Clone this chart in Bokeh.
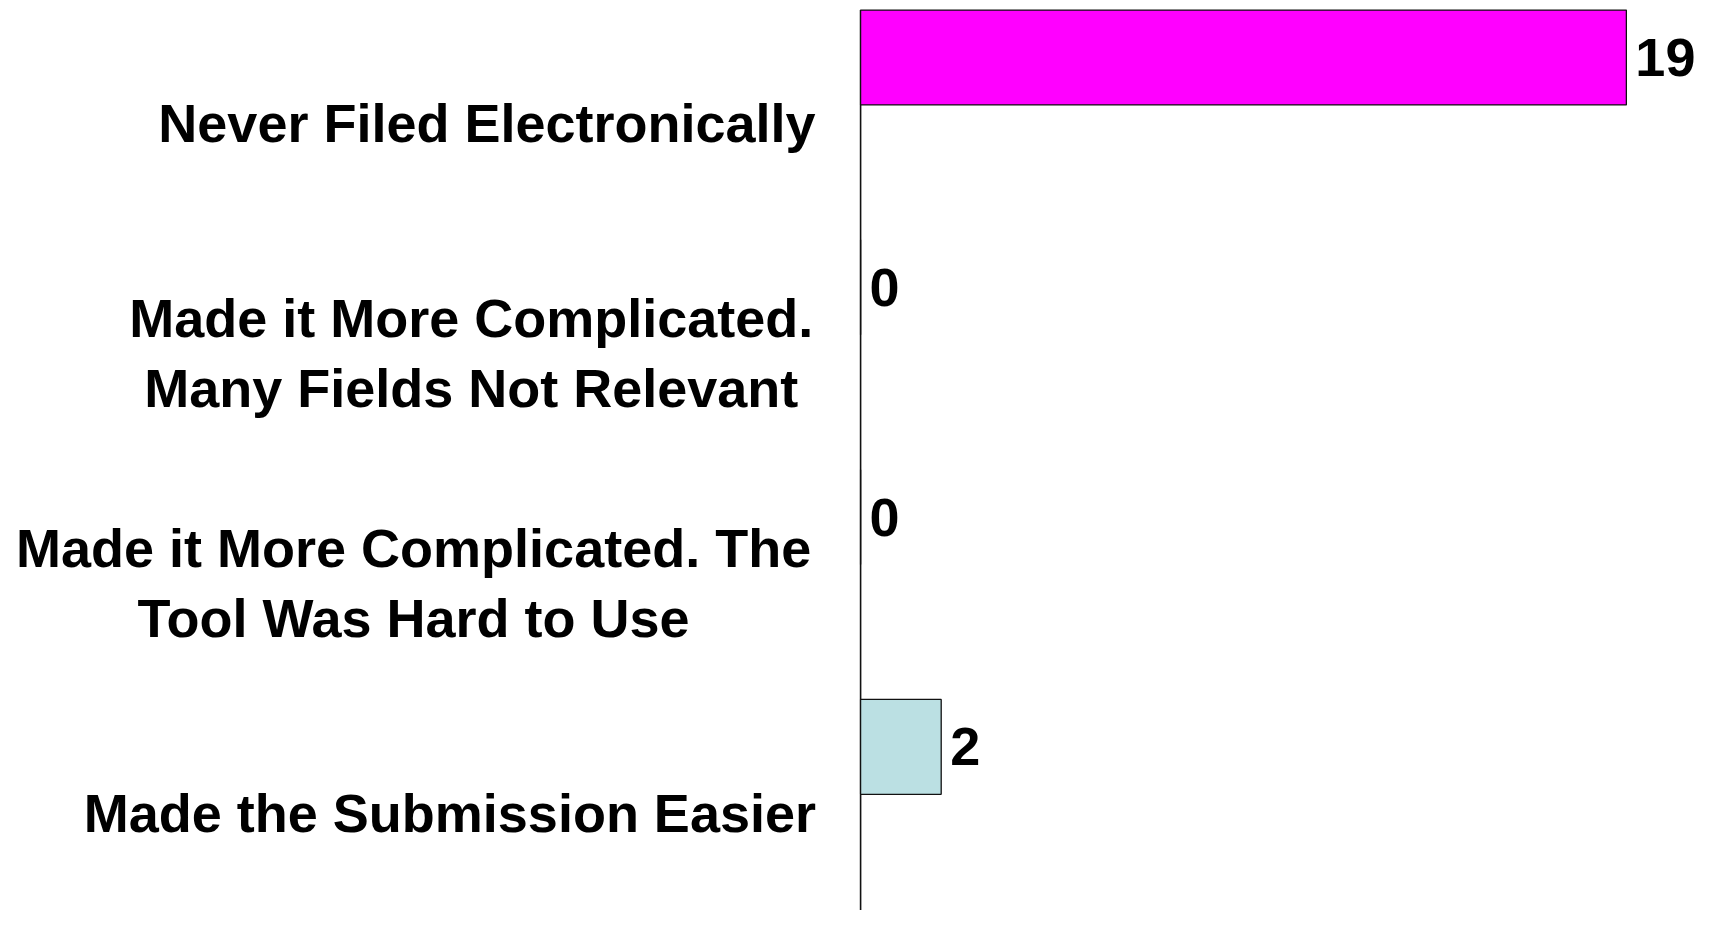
from bokeh.plotting import figure
from bokeh.models import ColumnDataSource, Range1d, FactorRange
from bokeh.transform import dodge
from bokeh.core.properties import value
from bokeh.embed import file_html
from bokeh.resources import INLINE

# ---- data ----
categories = [
    "Never Filed Electronically",
    "Made it More Complicated.\nMany Fields Not Relevant",
    "Made it More Complicated. The\nTool Was Hard to Use",
    "Made the Submission Easier",
]
counts = [19, 0, 0, 2]
bar_colors = ["#FF00FF", "#9999FF", "#993366", "#BBE0E3"]
value_labels = [str(v) for v in counts]

# label block centres (layout, in x data units left of the axis)
label_x = [-9.27, -9.66, -11.09, -10.19]

src = ColumnDataSource(dict(cat=categories, count=counts, color=bar_colors,
                            vlab=value_labels, lx=label_x))

p = figure(width=1696, height=910, output_backend="svg", toolbar_location=None,
           x_range=Range1d(-21.34, 20.74),
           y_range=FactorRange(*reversed(categories), range_padding=-0.020,
                               range_padding_units="absolute"),
           x_axis_location=None, y_axis_location=None,
           min_border=0, outline_line_color=None)
p.grid.visible = False
p.background_fill_color = "white"

BAR_OFF = 0.232
BAR_H = 0.413

# value axis line: from the top of the first bar down past the last category
axis_src = ColumnDataSource(dict(x=[0], c0=[categories[0]], c1=[categories[-1]]))
p.segment(x0="x", x1="x",
          y0=dodge("c0", BAR_OFF + BAR_H / 2, range=p.y_range),
          y1=dodge("c1", -0.6, range=p.y_range),
          line_color="#111111", line_width=1.6, source=axis_src)

p.hbar(y=dodge("cat", BAR_OFF, range=p.y_range), left=0, right="count", height=BAR_H,
       fill_color="color", line_color="#111111", line_width=1.3, source=src)

p.text(x="count", y=dodge("cat", BAR_OFF, range=p.y_range), text="vlab", source=src,
       x_offset=9, text_align="left", text_baseline="middle",
       text_font=value("Liberation Sans"), text_font_style="bold",
       text_font_size="54px", text_color="black")

p.text(x="lx", y=dodge("cat", -0.054, range=p.y_range), text="cat", source=src,
       text_align="center", text_baseline="middle", text_line_height=1.16,
       text_font=value("Liberation Sans"), text_font_style="bold",
       text_font_size="54px", text_color="black")

open("out.html", "w").write(file_html(p, INLINE))
